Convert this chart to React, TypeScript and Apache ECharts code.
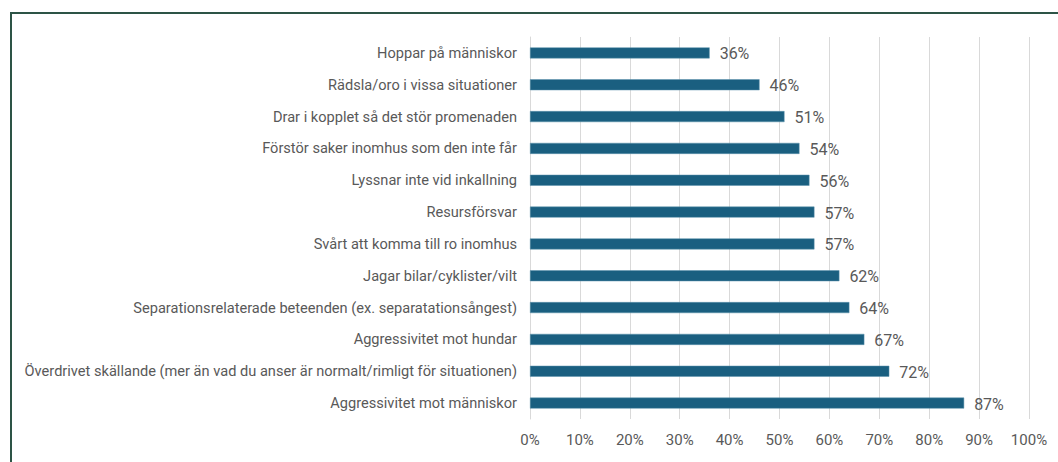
import React, { useEffect, useRef } from "react";
import * as echarts from "echarts";

const categories = [
  "Hoppar på människor",
  "Rädsla/oro i vissa situationer",
  "Drar i kopplet så det stör promenaden",
  "Förstör saker inomhus som den inte får",
  "Lyssnar inte vid inkallning",
  "Resursförsvar",
  "Svårt att komma till ro inomhus",
  "Jagar bilar/cyklister/vilt",
  "Separationsrelaterade beteenden (ex. separatationsångest)",
  "Aggressivitet mot hundar",
  "Överdrivet skällande (mer än vad du anser är normalt/rimligt för situationen)",
  "Aggressivitet mot människor",
];
const values = [36, 46, 51, 54, 56, 57, 57, 62, 64, 67, 72, 87];

const FONT = "Roboto, 'Noto Sans', sans-serif";

export default function App() {
  const ref = useRef<HTMLDivElement>(null);
  useEffect(() => {
    if (!ref.current) return;
    const chart = echarts.init(ref.current, undefined, { renderer: "svg" });
    chart.setOption({
      animation: false,
      backgroundColor: "#ffffff",
      grid: { left: 530, right: 29, top: 37, bottom: 43, containLabel: false },
      xAxis: {
        type: "value",
        min: 0,
        max: 100,
        interval: 10,
        axisLabel: {
          formatter: "{value}%",
          color: "#595959",
          fontFamily: FONT,
          fontSize: 15,
          margin: 13,
        },
        axisLine: { show: false },
        axisTick: { show: false },
        splitLine: { show: true, lineStyle: { color: "#d9d9d9", width: 1 } },
      },
      yAxis: {
        type: "category",
        data: categories,
        inverse: true,
        axisLabel: {
          color: "#595959",
          fontFamily: FONT,
          fontSize: 14.6,
          margin: 13,
        },
        axisLine: { show: true, lineStyle: { color: "#d9d9d9", width: 1 } },
        axisTick: { show: false },
      },
      series: [
        {
          type: "bar",
          data: values,
          barWidth: 11,
          itemStyle: { color: "#1a5f80", borderColor: "#5d93ad", borderWidth: 0.5 },
          label: {
            show: true,
            position: "right",
            distance: 10,
            offset: [0, 1],
            formatter: "{c}%",
            color: "#595959",
            fontFamily: FONT,
            fontSize: 16,
          },
        },
      ],
      graphic: [
        {
          type: "rect",
          shape: { x: 11, y: 13, width: 1100, height: 500 },
          style: { fill: "none", stroke: "#2d5446", lineWidth: 2 },
          silent: true,
        },
      ],
    });
    return () => chart.dispose();
  }, []);
  return (
    <div
      ref={ref}
      style={{ position: "fixed", left: 0, top: 0, width: 1058, height: 462 }}
    />
  );
}
